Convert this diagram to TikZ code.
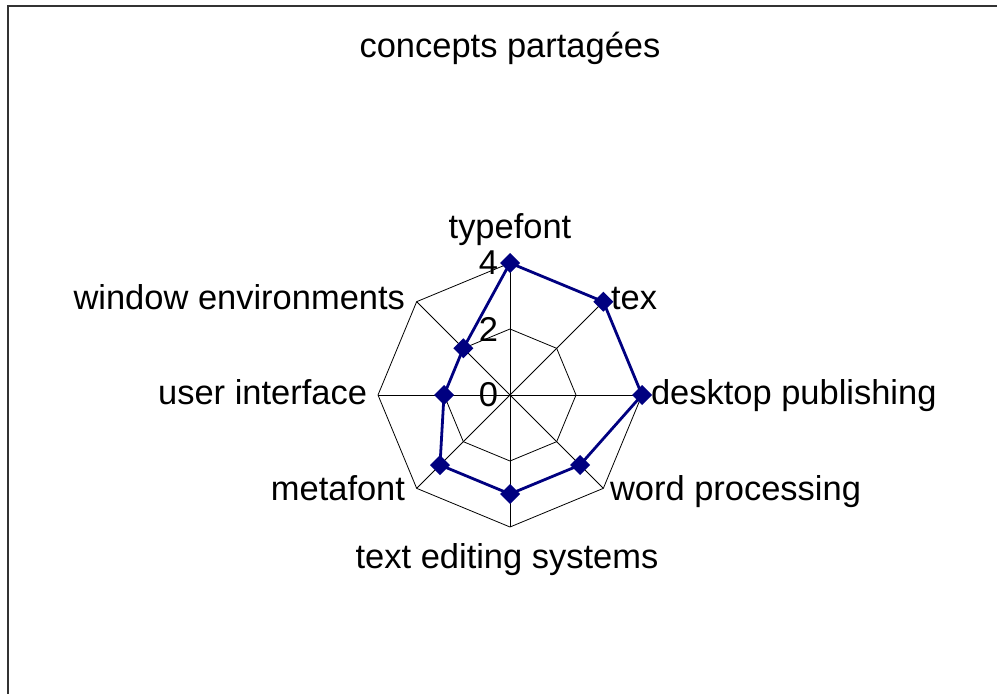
\documentclass[tikz,border=0pt]{standalone}
\usepackage{fontspec}
\setmainfont{Liberation Sans}
\usepackage{xcolor}
\definecolor{navy}{RGB}{0,0,128}
\usetikzlibrary{shapes.geometric}
\begin{document}
\begin{tikzpicture}[x=1bp,y=-1bp,
  every node/.style={inner sep=0pt,outer sep=0pt,font=\fontsize{34.6}{40}\selectfont},
  grid/.style={line width=.8bp,black},
  series/.style={line width=2.8bp,navy,line join=round},
  pt/.style={diamond,fill=navy,minimum size=20bp}]
\useasboundingbox (0,0) rectangle (997,694);
\draw[line width=1.8bp,black!80] (8,694) -- (8,6) -- (997,6);%
\node[anchor=base] (title) at (510,58) {concepts partagées};
% axis labels
\node[anchor=base] (typefont) at (510,238) {typefont};
\node[anchor=base west] (tex) at (611,309) {tex};
\node[anchor=base west] (dtp) at (651,404) {desktop publishing};
\node[anchor=base west] (wp) at (610,500) {word processing};
\node[anchor=base] (tes) at (507,568) {text editing systems};
\node[anchor=base east] (mf) at (405,500) {metafont};
\node[anchor=base east] (ui) at (367,404) {user interface};
\node[anchor=base east] (we) at (405,309) {window environments};
\begin{scope}[shift={(510,395)},y=1bp]
\coordinate (O) at (0,0);
\foreach \a in {0,45,...,315} \draw[grid] (O) -- (\a:132);
\draw[grid] (0:66) \foreach \a in {45,90,...,315} {-- (\a:66)} -- cycle;%
\draw[grid] (0:132) \foreach \a in {45,90,...,315} {-- (\a:132)} -- cycle;%
\node[anchor=east] (t0) at (-12,0) {0};
\node[anchor=east] (t2) at (-12,66) {2};
\node[anchor=east] (t4) at (-12,132) {4};
% values
\foreach[evaluate=\v as \r using 33*\v] \n/\a/\v in {1/90/4,2/45/4,3/0/4,4/-45/3,5/-90/3,6/-135/3,7/180/2,8/135/2}
  \coordinate (p\n) at (\a:\r);
\draw[series] (p1) -- (p2) -- (p3) -- (p4) -- (p5) -- (p6) -- (p7) -- (p8) -- cycle;
\foreach \n in {1,...,8} \node[pt] (m\n) at (p\n) {};
\end{scope}
\end{tikzpicture}
\end{document}
